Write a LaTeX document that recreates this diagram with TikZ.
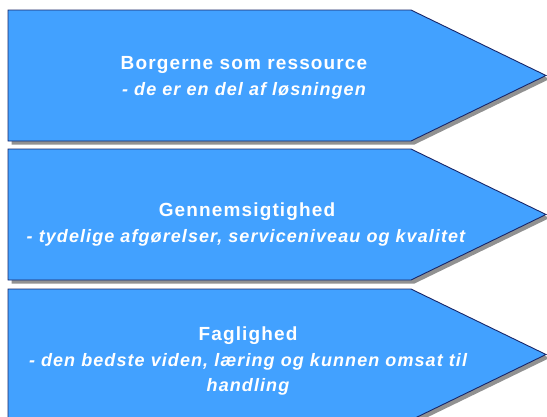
\documentclass[tikz,border=0pt]{standalone}
\usepackage{fontspec}
\setmainfont{Liberation Sans}
\newfontfamily\chevfont[LetterSpace=6]{Liberation Sans}
\definecolor{chevfill}{RGB}{66,161,255}
\definecolor{chevline}{RGB}{24,38,104}
\definecolor{chevshadow}{RGB}{145,145,145}
\tikzset{
  chevbox/.style={draw=chevline, fill=chevfill, line width=0.9pt, line join=miter},
  chevshade/.style={fill=chevshadow},
  titletext/.style={text=white, font=\chevfont\fontsize{19}{22}\selectfont\bfseries, anchor=base, inner sep=0pt},
  subtext/.style={text=white, font=\chevfont\fontsize{18}{21}\selectfont\bfseries\itshape, anchor=base, inner sep=0pt}
}
\begin{document}
\begin{tikzpicture}[x=1pt,y=-1pt]
\useasboundingbox (0,0) rectangle (547,416);
\clip (0,0) rectangle (547,416);
\fill[white] (0,0) rectangle (547,416);
\foreach \t in {10,149,289}{
  \fill[chevshade] (11.5,\t+3.5) -- (414.5,\t+3.5) -- (549.5,\t+69) -- (414.5,\t+134.5) -- (11.5,\t+134.5) -- cycle;
  \draw[chevbox] (8,\t) -- (411,\t) -- (546,\t+65.5) -- (411,\t+131) -- (8,\t+131) -- cycle;
}
\node[titletext] (t1) at (244,69.5) {Borgerne som ressource};
\node[subtext] (s1) at (244,95) {- de er en del af løsningen};
\node[titletext] (t2) at (247,216.5) {Gennemsigtighed};
\node[subtext] (s2) at (246,242.5) {- tydelige afgørelser, serviceniveau og kvalitet};
\node[titletext] (t3) at (248,340) {Faglighed};
\node[subtext] (s3) at (248,366.5) {- den bedste viden, læring og kunnen omsat til};
\node[subtext] (s3b) at (248,391.5) {handling};
\end{tikzpicture}
\end{document}
